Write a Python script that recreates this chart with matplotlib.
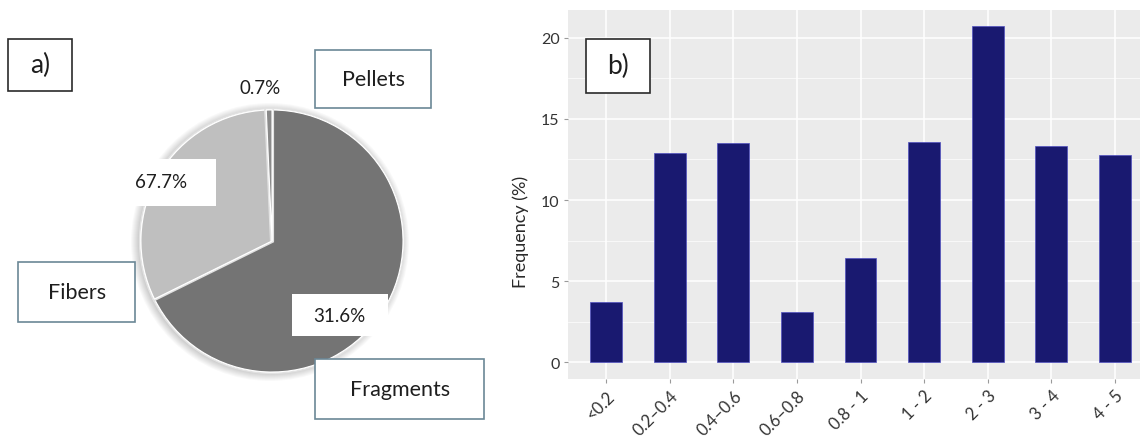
# -*- coding: utf-8 -*-
import numpy as np
import matplotlib
matplotlib.use("Agg")
import matplotlib.pyplot as plt
from matplotlib.patches import Rectangle, Circle
import matplotlib.patheffects as pe

plt.rcParams['font.family'] = ['Lato', 'DejaVu Sans']

# a) 塑料形态占比（顺时针：碎片、纤维、颗粒）
形态类别 = ['Fragments', 'Fibers', 'Pellets']
形态占比 = [67.7, 31.6, 0.7]
形态颜色 = ['#747474', '#bfbfbf', '#8a8a8a']

# b) 粒径分布 (mm)
粒径区间 = ['<0.2', '0.2\u20130.4', '0.4\u20130.6', '0.6\u20130.8',
            '0.8 - 1', '1 - 2', '2 - 3', '3 - 4', '4 - 5']
频率 = [3.7, 12.9, 13.5, 3.1, 6.4, 13.6, 20.7, 13.3, 12.8]

宽, 高 = 1140, 439


def 画框(ax, 左, 上, 右, 下, 边色='#6b8796', 线宽=1.2):
    """以像素坐标（左上为原点）画白底边框"""
    ax.add_patch(Rectangle((左, 高 - 下), 右 - 左, 下 - 上,
                           facecolor='white', edgecolor=边色, linewidth=线宽, zorder=6))


def 写字(ax, x, y, 文本, 字号, ha='center'):
    ax.text(x, 高 - y, 文本, fontsize=字号, ha=ha, va='center', color='#1e1e1e', zorder=7)


def 画柱状图(fig):
    """右侧：粒径频率柱状图（ggplot 风格）"""
    左, 右, 上, 下 = 568, 1153, 11, 380
    ax = fig.add_axes([左 / 宽, (高 - 下) / 高, (右 - 左) / 宽, (下 - 上) / 高])
    位置 = np.arange(len(粒径区间))
    ax.set_facecolor('#ebebeb')
    ax.bar(位置, 频率, width=0.5, color='#191970', edgecolor='#5050c0', linewidth=0.5, zorder=3)

    ax.set_xlim(-0.6, len(粒径区间) - 0.4)
    ax.set_ylim(-1.03, 21.71)
    ax.set_yticks([0, 5, 10, 15, 20])
    ax.set_yticks([2.5, 7.5, 12.5, 17.5], minor=True)
    ax.set_xticks(位置)
    ax.set_xticklabels(粒径区间, rotation=45, ha='right', va='top', rotation_mode='anchor')

    ax.grid(which='major', color='white', linewidth=1.1, zorder=0)
    ax.grid(which='minor', axis='y', color='white', linewidth=0.5, zorder=0)
    ax.set_axisbelow(True)
    for 边 in ax.spines.values():
        边.set_visible(False)
    ax.tick_params(axis='both', which='major', length=3, width=0.8, color='#9a9a9a',
                   labelsize=11.5, labelcolor='#333333', pad=3)
    ax.tick_params(axis='x', labelsize=12)
    ax.tick_params(axis='y', which='minor', length=0)

    ax.set_ylabel('Frequency (%)', fontsize=13, color='#2a2a2a')
    ax.yaxis.set_label_coords(-39 / (右 - 左), 0.40)
    return ax


def 画饼图(fig):
    """左侧：形态占比饼图及所有标注框（像素坐标覆盖层）"""
    ax = fig.add_axes([0, 0, 1, 1], zorder=5)
    圆心 = (272, 高 - 242)
    半径 = 131

    # 柔和阴影
    for i in range(8):
        ax.add_patch(Circle((圆心[0] - 2, 圆心[1] - 1), 半径 + 1 + i, facecolor='black',
                            edgecolor='none', alpha=0.022, zorder=1))

    扇区, _ = ax.pie(形态占比, colors=形态颜色, startangle=90, counterclock=False,
                   center=圆心, radius=半径, explode=[0, 0.07, 0.04],
                   wedgeprops=dict(edgecolor='white', linewidth=0.8))
    for 扇 in 扇区:
        扇.set_zorder(2)
        扇.set_path_effects([pe.withStroke(linewidth=3, foreground='#e2e2e2'), pe.Normal()])

    ax.set_xlim(0, 宽)
    ax.set_ylim(0, 高)
    ax.set_aspect('auto')
    ax.axis('off')

    # 面板编号
    画框(ax, 8, 40, 72, 92, 边色='#2a2a2a', 线宽=1.2)
    写字(ax, 40, 65, 'a)', 19)
    画框(ax, 586, 40, 650, 94, 边色='#2a2a2a', 线宽=1.2)
    写字(ax, 618, 66, 'b)', 19)

    # 类别标注框
    画框(ax, 315, 51, 431, 109)
    写字(ax, 373, 80, 形态类别[2], 15.5)
    画框(ax, 18, 263, 135, 323)
    写字(ax, 77, 293, 形态类别[1], 15.5)
    画框(ax, 315, 360, 484, 420)
    写字(ax, 400, 390, 形态类别[0], 15.5)

    # 百分比标注
    写字(ax, 260, 88, f'{形态占比[2]}%', 13.5)
    画框(ax, 132, 160, 216, 207, 边色='white', 线宽=0)
    写字(ax, 135, 183, f'{形态占比[0]}%', 13.5, ha='left')
    画框(ax, 292, 295, 388, 337, 边色='white', 线宽=0)
    写字(ax, 339, 316, f'{形态占比[1]}%', 13.5)
    return ax


def 主函数():
    fig = plt.figure(figsize=(宽 / 100, 高 / 100), dpi=100)
    画柱状图(fig)
    画饼图(fig)
    fig.savefig('out.png', dpi=100)


if __name__ == "__main__":
    主函数()
